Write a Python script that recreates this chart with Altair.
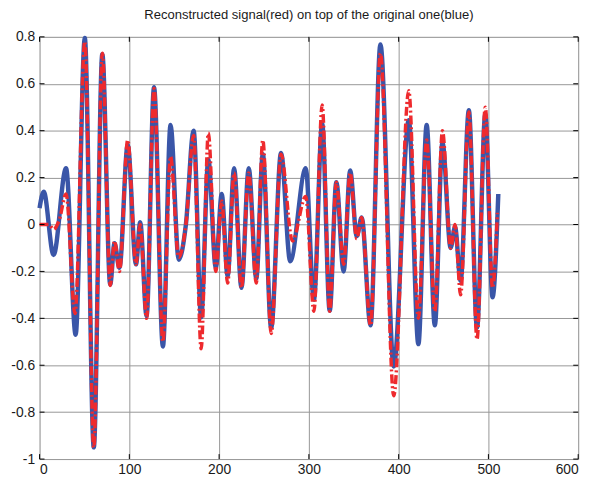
import altair as alt
import pandas as pd

# Original signal (blue) - extrema
blue_x = [0, 4.6, 15.6, 29.5, 40.2, 50.4, 60.4, 69.9, 78.7, 83.5, 89, 98.2, 107.4, 112.1,
          119.2, 127.5, 137.4, 145.9, 155, 163, 171.6, 180, 188, 196.3, 202.9, 209.5, 216.7,
          224.9, 233, 241.4, 248.7, 258, 269, 279.2, 296.5, 305.6, 314.8, 323.2, 330.6,
          338.7, 346, 353.3, 358.8, 368.7, 379.7, 394.5, 411.3, 422, 431.2, 440.3, 448.8,
          457.9, 462.8, 469, 478.2, 487.3, 496.5, 504.6, 511]
blue_y = [0.07, 0.14, -0.13, 0.24, -0.47, 0.795, -0.95, 0.726, -0.255, -0.08, -0.185, 0.34,
          -0.17, 0.01, -0.39, 0.585, -0.52, 0.424, -0.15, 0.0, 0.40, -0.395, 0.277, -0.185,
          0.13, -0.22, 0.24, -0.27, 0.24, -0.23, 0.30, -0.44, 0.305, -0.157, 0.24, -0.32,
          0.43, -0.367, 0.18, -0.2, 0.23, -0.05, 0.03, -0.43, 0.768, -0.605, 0.445, -0.51,
          0.424, -0.43, 0.35, -0.10, -0.01, -0.24, 0.487, -0.44, 0.47, -0.31, 0.13]

# Reconstructed signal (red)
red_x = [0, 10, 15.6, 22, 29.5, 39.5, 50.4, 60.4, 69.9, 78.7, 83.5, 89, 98.2, 107.4, 112.1,
         119.2, 127.5, 137.4, 145.9, 155, 163, 171.6, 180, 188, 196.3, 202.9, 209.5, 216.7,
         224.9, 233, 241.4, 248.7, 258, 269, 281.7, 296.5, 305.6, 314.8, 323.2, 330.6,
         338.7, 346, 353.3, 358.8, 368.7, 379.7, 394.5, 411.3, 422, 431.2, 440.3, 448.8,
         457.9, 462.8, 469, 478.2, 487.3, 496.5, 504.6, 510]
red_y = [0, 0, -0.02, 0.02, 0.13, -0.38, 0.78, -0.95, 0.73, -0.26, -0.07, -0.2, 0.36, -0.17,
         0.0, -0.4, 0.58, -0.5, 0.29, -0.14, 0.0, 0.38, -0.53, 0.39, -0.2, 0.1, -0.25, 0.22,
         -0.27, 0.22, -0.25, 0.36, -0.465, 0.3, -0.07, 0.12, -0.37, 0.51, -0.37, 0.18, -0.17,
         0.22, -0.06, 0.03, -0.43, 0.73, -0.73, 0.57, -0.40, 0.36, -0.37, 0.40, -0.1, 0.0,
         -0.30, 0.48, -0.49, 0.50, -0.27, 0.05]

x_ticks = [0, 100, 200, 300, 400, 500, 600]
y_ticks = [-1, -0.8, -0.6, -0.4, -0.2, 0, 0.2, 0.4, 0.6, 0.8]

W, H = 546, 428

blue_df = pd.DataFrame({"x": blue_x, "y": blue_y})
red_df = pd.DataFrame({"x": red_x, "y": red_y})
xt_df = pd.DataFrame({"t": x_ticks})
yt_df = pd.DataFrame({"t": y_ticks})

xscale = alt.Scale(domain=[0, 600], nice=False, zero=False)
yscale = alt.Scale(domain=[-1, 0.8], nice=False, zero=False)

label_style = dict(labelFont="Liberation Sans", labelFontSize=14, labelColor="#1a1a1a",
                   gridColor="#969696", gridWidth=1, gridOpacity=1)
xaxis = alt.Axis(values=x_ticks, labelExpr="'' + datum.value", grid=True, ticks=False,
                 domain=False, labelPadding=4, **label_style)
yaxis = alt.Axis(values=y_ticks, labelExpr="'' + datum.value", grid=True, ticks=False,
                 domain=False, labelPadding=5, **label_style)

blue = alt.Chart(blue_df).mark_line(
    color="#3a56a8", strokeWidth=4.5, interpolate="monotone"
).encode(
    x=alt.X("x:Q", scale=xscale, axis=xaxis, title=None),
    y=alt.Y("y:Q", scale=yscale, axis=yaxis, title=None),
)

red = alt.Chart(red_df).mark_line(
    color="#ee2a2e", strokeWidth=3.5, interpolate="monotone", strokeDash=[9, 3, 2, 3]
).encode(
    x=alt.X("x:Q", scale=xscale, title=None),
    y=alt.Y("y:Q", scale=yscale, title=None),
)

tick_style = dict(color="#000000", strokeWidth=1)
bottom_ticks = alt.Chart(xt_df).mark_rule(**tick_style).encode(
    x=alt.X("t:Q", scale=xscale, title=None), y=alt.value(H), y2=alt.value(H - 5))
top_ticks = alt.Chart(xt_df).mark_rule(**tick_style).encode(
    x=alt.X("t:Q", scale=xscale, title=None), y=alt.value(0), y2=alt.value(5))
left_ticks = alt.Chart(yt_df).mark_rule(**tick_style).encode(
    y=alt.Y("t:Q", scale=yscale, title=None), x=alt.value(0), x2=alt.value(5))
right_ticks = alt.Chart(yt_df).mark_rule(**tick_style).encode(
    y=alt.Y("t:Q", scale=yscale, title=None), x=alt.value(W), x2=alt.value(W - 5))

chart = alt.layer(blue, red, bottom_ticks, top_ticks, left_ticks, right_ticks).properties(
    width=W, height=H,
    title=alt.TitleParams(
        "Reconstructed signal(red) on top of the original one(blue)",
        font="Liberation Sans", fontSize=13.2, fontWeight="normal", color="#1a1a1a",
        anchor="middle", offset=7,
    ),
    autosize=alt.AutoSizeParams(type="none"),
    padding={"left": 32, "top": 26, "right": 14, "bottom": 20},
).configure_view(
    stroke="#000000", strokeWidth=1
).configure(background="white")

chart.save("out.html", embed_options={"renderer": "svg", "actions": False})
